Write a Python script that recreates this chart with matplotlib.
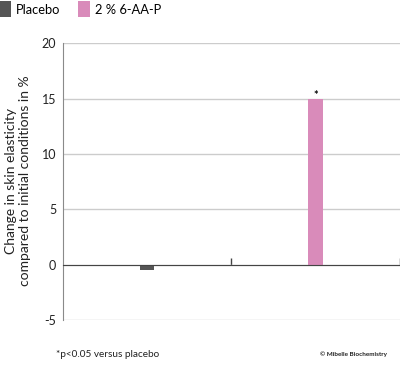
#!/usr/bin/env python3
"""Change in skin elasticity: placebo vs 2 % 6-AA-P."""
import matplotlib
matplotlib.use("Agg")
import matplotlib.pyplot as plt

# data
groups = ["Placebo", "2 % 6-AA-P"]
values = [-0.5, 15.0]
colors = ["#555555", "#d98bba"]
signif = ["", "*"]

plt.rcParams["font.family"] = ["Lato", "DejaVu Sans"]
plt.rcParams["axes.unicode_minus"] = False

fig = plt.figure(figsize=(4.0, 3.73), dpi=100)
ax = fig.add_axes([0.158, 0.142, 0.845, 0.742])

x = range(len(groups))
bars = ax.bar(x, values, width=0.085, color=colors, label=groups, zorder=3)
for b, s in zip(bars, signif):
    if s:
        ax.annotate(s, (b.get_x() + b.get_width() / 2, b.get_height()),
                    xytext=(0, -2), textcoords="offset points",
                    ha="center", va="bottom", fontsize=8, fontweight="bold")

ax.set_xlim(-0.5, 1.51)
ax.set_ylim(-5, 20)
ax.set_yticks([-5, 0, 5, 10, 15, 20])
ax.set_xticks([0.5, 1.5])
ax.set_xticklabels([])
ax.tick_params(axis="x", direction="in", length=5, width=1, color="#444444")
ax.tick_params(axis="y", length=0, pad=5, labelsize=9, labelcolor="#222222")

ax.grid(axis="y", color="#cccccc", lw=1, zorder=0)
for side in ("top", "right"):
    ax.spines[side].set_visible(False)
ax.spines["bottom"].set_position(("data", 0))
ax.spines["bottom"].set_color("#444444")
ax.spines["bottom"].set_zorder(4)
ax.spines["left"].set_color("#8a8a8a")

fig.text(0.045, 0.515, "Change in skin elasticity\ncompared to initial conditions in %",
         rotation=90, ha="center", va="center", multialignment="center",
         fontsize=10, color="#222222", linespacing=1.15)

fig.legend(handles=list(bars), labels=groups, loc="center left",
           bbox_to_anchor=(-0.004, 0.975), ncol=2, frameon=False,
           fontsize=9.3, handlelength=0.95, handleheight=1.5,
           handletextpad=0.4, columnspacing=1.35, borderaxespad=0,
           borderpad=0)

fig.text(0.14, 0.05, "*p<0.05 versus placebo", fontsize=7.2, color="#222222",
         va="center")
fig.text(0.968, 0.05, "© Mibelle Biochemistry", fontsize=4.6, color="#222222",
         ha="right", va="center", fontweight="bold")

fig.savefig("out.png", dpi=100)
